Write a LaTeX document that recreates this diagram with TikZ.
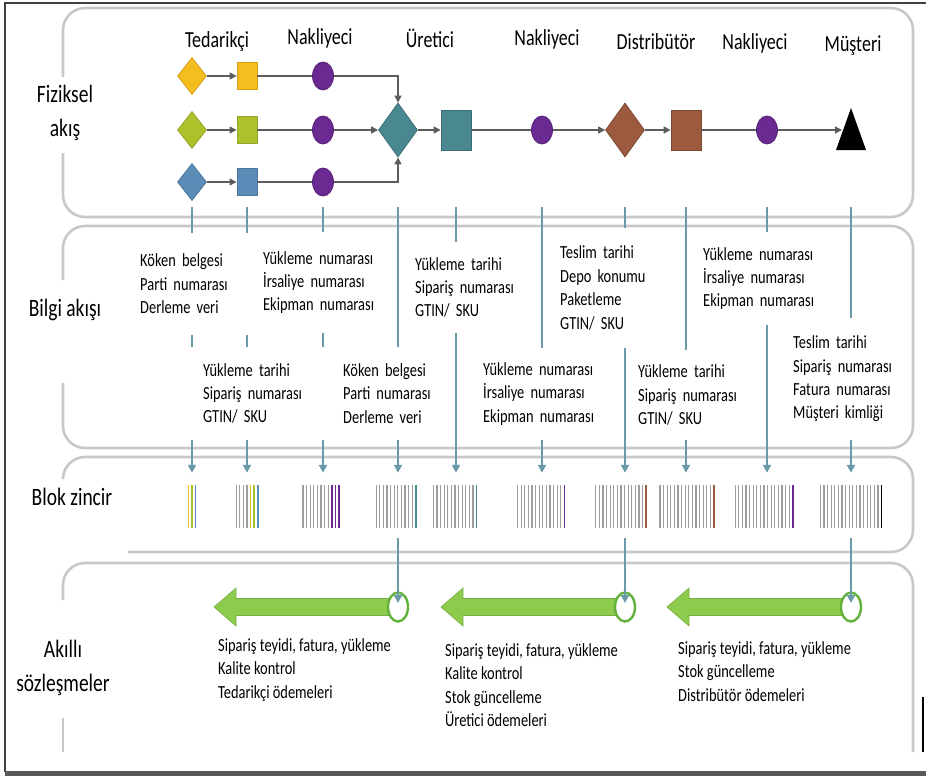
\documentclass[tikz,border=0pt]{standalone}
\usepackage{fontspec}
\setmainfont{Carlito}[FakeStretch=0.78]
\usepackage{xcolor}
\definecolor{tgold}{HTML}{F5BD1F}
\definecolor{tolive}{HTML}{AEC12D}
\definecolor{tblue}{HTML}{5B8BB7}
\definecolor{tpurple}{HTML}{6A2A92}
\definecolor{tteal}{HTML}{4A8891}
\definecolor{tbrown}{HTML}{9C5A3E}
\definecolor{tflow}{HTML}{5C5C5C}
\definecolor{tinfo}{HTML}{6A9AA9}
\definecolor{tpanel}{HTML}{C8C8C8}
\definecolor{tbar}{HTML}{9E9E9E}
\definecolor{tgreen}{HTML}{8DCB4C}
\definecolor{tgreendk}{HTML}{62B13A}
\usepackage{tikz}
\usetikzlibrary{shapes.geometric,arrows.meta,positioning}

\newcommand{\zincir}[4]{%
  \pgfmathsetmacro{\zsol}{#1-(#2+#4-1)*1.8}%
  \ifnum#2>0
    \foreach \i in {1,...,#2}{\draw[bar] ({\zsol+(\i-1)*3.6},485) -- ++(0,43);}%
  \fi
  \foreach \c [count=\j from 0] in {#3}{\draw[bar,draw=\c,line width=1.5pt] ({\zsol+(#2+\j)*3.6},485) -- ++(0,43);}%
}
\newcommand{\yesilok}[1]{%
  \filldraw[okgovde] (#1) ++(0,-8.5) -- ++(-162,0) -- ++(0,-10.5) -- ++(-22,19) -- ++(22,19) -- ++(0,-10.5) -- ++(162,0) -- cycle;}

\begin{document}
\begin{tikzpicture}[x=1pt,y=-1pt,on grid,
  font=\fontsize{18.5}{23.4}\selectfont,
  kdiamond/.style={diamond,inner sep=0pt,minimum width=29pt,minimum height=37pt,line width=0.8pt},
  bdiamond/.style={diamond,inner sep=0pt,minimum width=39pt,minimum height=54pt,line width=0.8pt},
  kkare/.style={rectangle,inner sep=0pt,minimum width=20pt,minimum height=27pt,line width=0.8pt},
  bkare/.style={rectangle,inner sep=0pt,minimum width=30pt,minimum height=40pt,line width=0.8pt},
  tasiyici/.style={ellipse,inner sep=0pt,minimum width=21pt,minimum height=28pt,fill=tpurple,draw=tpurple!80!black,line width=0.8pt},
  akis/.style={draw=tflow,line width=1.4pt},
  ok/.style={akis,-{Triangle[length=7pt,width=7pt]}},
  bilgiok/.style={draw=tinfo,line width=2pt,-{Triangle[length=8pt,width=8pt]}},
  bilgi/.style={fill=white,align=left,anchor=west,inner ysep=0pt},
  baslik/.style={font=\fontsize{23}{28}\selectfont,anchor=base},
  satir/.style={font=\fontsize{25}{34}\selectfont,align=center},
  blok/.style={inner sep=0pt,minimum width=10pt,minimum height=43pt},
  bar/.style={draw=tbar,line width=1.1pt},
  panel/.style={draw=tpanel,line width=2.6pt,rounded corners=22pt},
  okgovde/.style={fill=tgreen,draw=tgreen!85!black,line width=0.6pt},
  daire/.style={ellipse,fill=white,draw=tgreendk,line width=2.4pt,minimum width=20pt,minimum height=29pt,inner sep=0pt},
  sozlesme/.style={align=left,anchor=north west,inner sep=0pt}
]
\useasboundingbox (0,0) rectangle (926,776);
\draw[line width=1.4pt,draw=black!75] (926,3) -- (5,3) -- (5,772);
\fill[black!65] (5,771) rectangle (926,776);
\draw[line width=1.4pt] (923,697) -- (923,752);

\draw[panel] (63,77) -- (63,8) -- (913,8) -- (913,217) -- (63,217) -- (63,153);
\draw[panel] (63,280) -- (63,226) -- (913,226) -- (913,448) -- (63,448) -- (63,383);
\draw[panel] (63,478) -- (63,457) -- (913,457) -- (913,552) -- (128,552);
\draw[panel] (63,600) -- (63,563) -- (913,563) -- (913,752);
\draw[panel] (63,718) -- (63,752);

\node[satir] (rFiz) at (65,113) {Fiziksel\\akış};
\node[satir,anchor=base] (rBil) at (65,316) {Bilgi akışı};
\node[satir,anchor=base] (rBlok) at (72,505) {Blok zincir};
\node[satir] (rAkil) at (63,668) {Akıllı\\sözleşmeler};

\node[baslik] (hTed) at (217,48) {Tedarikçi};
\node[baslik] (hNak1) at (320,45) {Nakliyeci};
\node[baslik] (hUret) at (430,48) {Üretici};
\node[baslik] (hNak2) at (547,46) {Nakliyeci};
\node[baslik] (hDist) at (656,50) {Distribütör};
\node[baslik] (hNak3) at (755,50) {Nakliyeci};
\node[baslik] (hMust) at (853,52) {Müşteri};

\node[kdiamond,fill=tgold,draw=tgold!85!black] (ted1) at (192,76) {};
\node[kdiamond,fill=tolive,draw=tolive!85!black] (ted2) at (192,130) {};
\node[kdiamond,fill=tblue,draw=tblue!85!black] (ted3) at (192,182) {};
\node[kkare,fill=tgold,draw=tgold!85!black,right=55pt of ted1] (tedk1) {};
\node[kkare,fill=tolive,draw=tolive!85!black,right=55pt of ted2] (tedk2) {};
\node[kkare,fill=tblue,draw=tblue!85!black,right=55pt of ted3] (tedk3) {};
\node[tasiyici,right=76pt of tedk1] (nak1) {};
\node[tasiyici,right=76pt of tedk2] (nak2) {};
\node[tasiyici,right=76pt of tedk3] (nak3) {};
\node[bdiamond,fill=tteal,draw=tteal!80!black] (uret) at (398,130) {};
\node[bkare,fill=tteal,draw=tteal!80!black,right=58pt of uret] (uretk) {};
\node[tasiyici,right=86pt of uretk] (nak4) {};
\node[bdiamond,fill=tbrown,draw=tbrown!80!black,right=83pt of nak4] (dist) {};
\node[bkare,fill=tbrown,draw=tbrown!80!black,right=61pt of dist] (distk) {};
\node[tasiyici,right=81pt of distk] (nak5) {};
\coordinate[right=75pt of nak5] (must);
\fill[black] (must) ++(9,-22) -- ++(15,42) -- ++(-30,0) -- cycle;

\draw[ok] (ted1) -- (tedk1);
\draw[ok] (ted2) -- (tedk2);
\draw[ok] (ted3) -- (tedk3);
\draw[akis] (tedk1) -- (nak1);
\draw[akis] (tedk2) -- (nak2);
\draw[akis] (tedk3) -- (nak3);
\draw[ok] (nak1) -| (uret.north);
\draw[ok] (nak2) -- (uret);
\draw[ok] (nak3) -| (uret.south);
\draw[ok] (uret) -- (uretk);
\draw[akis] (uretk) -- (nak4);
\draw[ok] (nak4) -- (dist);
\draw[ok] (dist) -- (distk);
\draw[akis] (distk) -- (nak5);
\draw[ok] (nak5) -- (must);

\foreach \x [count=\i] in {192,247,323,398,456,542,625,686,767,851}{
  \coordinate (b\i) at (\x,207);
  \node[blok] (z\i) at (\x,506.5) {};
}
\foreach \i in {1,...,10} \draw[bilgiok,shorten >=12pt] (b\i) -- (z\i.north);

\zincir{192}{0}{tgold,tolive,tblue}{3}
\zincir{247}{4}{tgold,tolive,tblue}{3}
\zincir{321}{8}{tpurple,tpurple,tpurple}{3}
\zincir{396}{11}{tteal}{1}
\zincir{455}{12}{tteal}{1}
\zincir{541}{13}{tpurple}{1}
\zincir{621}{14}{tbrown}{1}
\zincir{687}{15}{tbrown}{1}
\zincir{764}{16}{tpurple}{1}
\zincir{851}{17}{black}{1}

\node[bilgi,text width=110pt,inner xsep=5pt,minimum height=102pt] (u1) at (135,284) {Köken belgesi\\Parti numarası\\Derleme veri};
\node[bilgi,text width=120pt,inner xsep=5pt,minimum height=101pt] (u2) at (258,282.5) {Yükleme numarası\\İrsaliye numarası\\Ekipman numarası};
\node[bilgi,text width=110pt,inner xsep=5pt,minimum height=91pt] (u3) at (410,287.5) {Yükleme tarihi\\Sipariş numarası\\GTIN/ SKU};
\node[bilgi,text width=105pt,inner xsep=8pt,minimum height=120pt] (u4) at (552,288) {Teslim tarihi\\Depo konumu\\Paketleme\\GTIN/ SKU};
\node[bilgi,text width=125pt,inner xsep=8pt,minimum height=93pt] (u5) at (695,278.5) {Yükleme numarası\\İrsaliye numarası\\Ekipman numarası};
\node[bilgi,text width=109pt,inner xsep=18pt,minimum height=93pt] (l1) at (185,393.5) {Yükleme tarihi\\Sipariş numarası\\GTIN/ SKU};
\node[bilgi,text width=95pt,inner xsep=11pt,minimum height=93pt] (l2) at (332,393.5) {Köken belgesi\\Parti numarası\\Derleme veri};
\node[bilgi,text width=125pt,inner xsep=11pt,minimum height=92pt] (l3) at (472,394) {Yükleme numarası\\İrsaliye numarası\\Ekipman numarası};
\node[bilgi,text width=105pt,inner xsep=8pt,minimum height=90pt] (l4) at (630,395) {Yükleme tarihi\\Sipariş numarası\\GTIN/ SKU};
\node[bilgi,text width=100pt,inner xsep=13pt,minimum height=122pt] (l5) at (780,379) {Teslim tarihi\\Sipariş numarası\\Fatura numarası\\Müşteri kimliği};

\coordinate (sk1) at (398,607);
\coordinate (sk2) at (625,607);
\coordinate (sk3) at (851,607);
\yesilok{sk1}
\yesilok{sk2}
\yesilok{sk3}
\node[daire] (sc1) at (sk1) {};
\node[daire] (sc2) at (sk2) {};
\node[daire] (sc3) at (sk3) {};
\draw[bilgiok,shorten <=10pt,shorten >=4pt] (z4.south) -- (sc1.center);
\draw[bilgiok,shorten <=10pt,shorten >=4pt] (z7.south) -- (sc2.center);
\draw[bilgiok,shorten <=10pt,shorten >=4pt] (z10.south) -- (sc3.center);

\node[sozlesme] (s1) at (218,638.5) {Sipariş teyidi, fatura, yükleme\\Kalite kontrol\\Tedarikçi ödemeleri};
\node[sozlesme] (s2) at (445,643.5) {Sipariş teyidi, fatura, yükleme\\Kalite kontrol\\Stok güncelleme\\Üretici ödemeleri};
\node[sozlesme] (s3) at (678,641.5) {Sipariş teyidi, fatura, yükleme\\Stok güncelleme\\Distribütör ödemeleri};
\end{tikzpicture}
\end{document}
